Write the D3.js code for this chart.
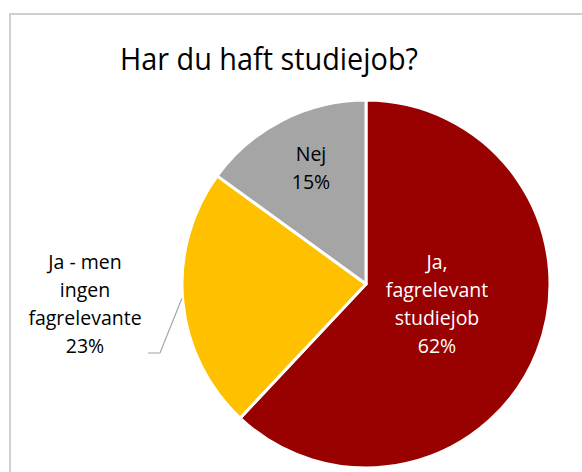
<!DOCTYPE html>
<html lang="da">
<head>
<meta charset="UTF-8">
<title>Har du haft studiejob?</title>
<script src="https://d3js.org/d3.v7.min.js"></script>
<style>
  body { margin: 0; background: #fff; }
</style>
</head>
<body>
<script>
    // data
    const categories = ["Ja, fagrelevant studiejob", "Ja - men ingen fagrelevante", "Nej"];
    const values = [62, 23, 15];
    const labelLines = [["Ja,", "fagrelevant", "studiejob"], ["Ja - men", "ingen", "fagrelevante"], ["Nej"]];
    const colors = ["#990000", "#FFC000", "#A5A5A5"];
    const title = "Har du haft studiejob?";

    const width = 582, height = 472;
    const cx = 366, cy = 284, radius = 184;
    const font = "'Open Sans', 'Noto Sans', sans-serif";

    const svg = d3.select("body").append("svg")
        .attr("width", width).attr("height", height);

    // chart frame
    svg.append("rect")
        .attr("x", 10).attr("y", 14)
        .attr("width", 600).attr("height", 500)
        .attr("fill", "#fff").attr("stroke", "#cfcfcf").attr("stroke-width", 2);

    svg.append("text")
        .attr("x", 269).attr("y", 70)
        .attr("text-anchor", "middle")
        .attr("font-family", font).attr("font-size", 31)
        .attr("textLength", 298).attr("lengthAdjust", "spacingAndGlyphs")
        .attr("fill", "#000")
        .text(title);

    const data = categories.map((c, i) => ({ name: c, value: values[i], lines: labelLines[i], color: colors[i] }));

    const pie = d3.pie().value(d => d.value).sort(null);
    const arcs = pie(data);
    const arc = d3.arc().innerRadius(0).outerRadius(radius);

    const g = svg.append("g").attr("transform", `translate(${cx},${cy})`);

    g.selectAll("path.slice")
        .data(arcs)
        .enter().append("path")
        .attr("class", "slice")
        .attr("d", arc)
        .attr("fill", d => d.data.color)
        .attr("stroke", "#fff").attr("stroke-width", 3)
        .attr("stroke-linejoin", "round");

    // label positions (relative to pie centre)
    const labelPos = [[71, 20], [-281, 20], [-55, -116]];
    const lineH = 28;

    arcs.forEach((a, i) => {
        const lines = a.data.lines.concat([a.data.value + "%"]);
        const [lx, ly] = labelPos[i];
        const t = g.append("text")
            .attr("text-anchor", "middle")
            .attr("font-family", font).attr("font-size", 19.5)
            .attr("fill", i === 0 ? "#fff" : "#000");
        lines.forEach((s, j) => {
            t.append("tspan")
                .attr("x", lx)
                .attr("y", ly + (j - (lines.length - 1) / 2) * lineH + 7)
                .text(s);
        });
    });

    // leader line for the yellow slice
    const yellow = arcs[1];
    const mid = (yellow.startAngle + yellow.endAngle) / 2;
    const edge = [Math.sin(mid) * (radius + 1), -Math.cos(mid) * (radius + 1) - 3];
    g.append("polyline")
        .attr("points", [[-218, 69], [-206, 69], edge].map(p => p.join(",")).join(" "))
        .attr("fill", "none").attr("stroke", "#a6a6a6").attr("stroke-width", 1.2);
</script>
</body>
</html>
